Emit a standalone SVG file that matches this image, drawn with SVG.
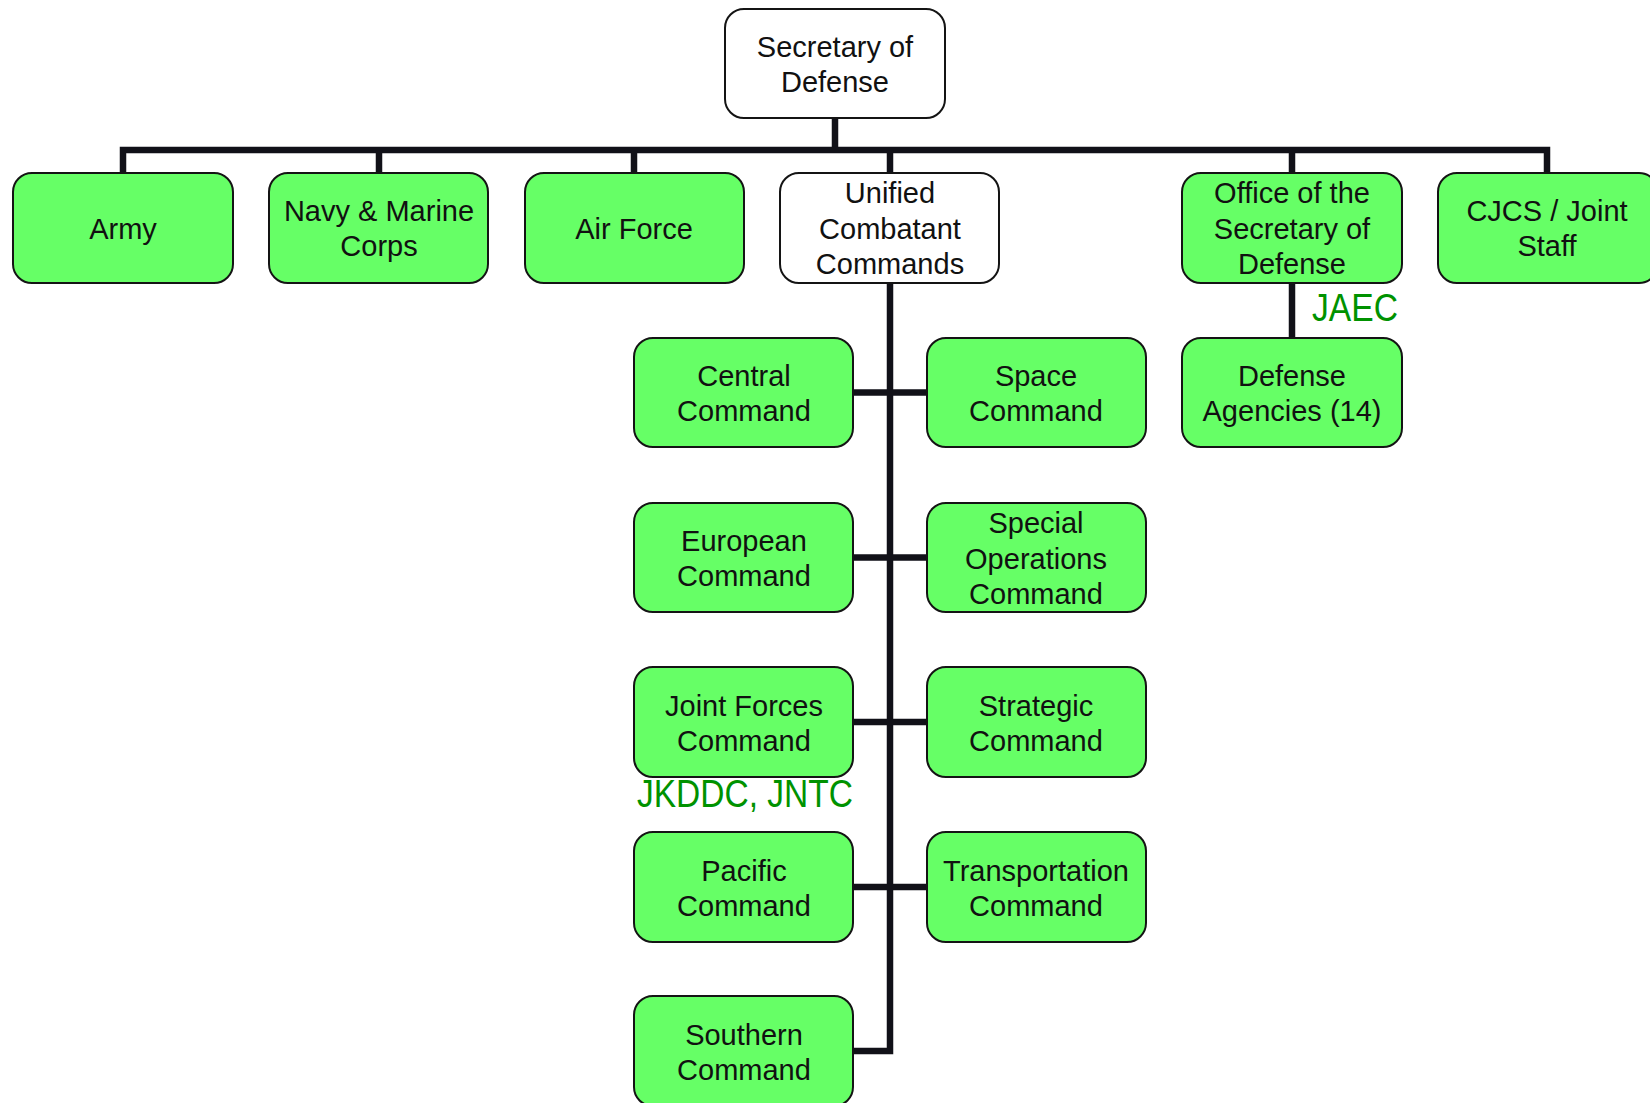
<svg xmlns="http://www.w3.org/2000/svg" width="1650" height="1103" viewBox="0 0 1650 1103">
<style>
.b{fill:#66ff66;stroke:#141414;stroke-width:2}
.w{fill:#ffffff;stroke:#141414;stroke-width:2}
.t{font-family:"Liberation Sans",Arial,sans-serif;font-size:29px;fill:#111;text-anchor:middle}
.g{font-family:"Liberation Sans",Arial,sans-serif;font-size:39px;fill:#009200}
.c{fill:none;stroke:#111118;stroke-width:6.5;stroke-linecap:butt;stroke-linejoin:miter}
</style>
<rect width="1650" height="1103" fill="#ffffff"/>
<g id="connectors">
<path class="c" d="M835 118V150"/>
<path class="c" d="M123 173V150H1547V173"/>
<path class="c" d="M379 150V173M634 150V173M890 150V173M1292 150V173"/>
<path class="c" d="M1292 283V338"/>
<path class="c" d="M890 283V1051H853"/>
<path class="c" d="M853 392.5H927M853 557.5H927M853 722H927M853 887H927"/>
</g>
<g id="secdef"><rect class="w" x="725" y="9" width="220" height="109" rx="19"/><text class="t" x="835" y="57">Secretary of</text><text class="t" x="835" y="92">Defense</text></g>
<g id="army"><rect class="b" x="13" y="173" width="220" height="110" rx="19"/><text class="t" x="123" y="239">Army</text></g>
<g id="navy"><rect class="b" x="269" y="173" width="219" height="110" rx="19"/><text class="t" x="379" y="221">Navy &amp; Marine</text><text class="t" x="379" y="256">Corps</text></g>
<g id="airforce"><rect class="b" x="525" y="173" width="219" height="110" rx="19"/><text class="t" x="634" y="239">Air Force</text></g>
<g id="unified"><rect class="w" x="780" y="173" width="219" height="110" rx="19"/><text class="t" x="890" y="203">Unified</text><text class="t" x="890" y="239">Combatant</text><text class="t" x="890" y="274">Commands</text></g>
<g id="osd"><rect class="b" x="1182" y="173" width="220" height="110" rx="19"/><text class="t" x="1292" y="203">Office of the</text><text class="t" x="1292" y="239">Secretary of</text><text class="t" x="1292" y="274">Defense</text></g>
<g id="cjcs"><rect class="b" x="1438" y="173" width="220" height="110" rx="19"/><text class="t" x="1547" y="221">CJCS / Joint</text><text class="t" x="1547" y="256">Staff</text></g>
<g id="agencies"><rect class="b" x="1182" y="338" width="220" height="109" rx="19"/><text class="t" x="1292" y="386">Defense</text><text class="t" x="1292" y="421">Agencies (14)</text></g>
<g id="jaec"><text class="g" x="1312" y="321" textLength="86" lengthAdjust="spacingAndGlyphs">JAEC</text></g>
<g id="central"><rect class="b" x="634" y="338" width="219" height="109" rx="19"/><text class="t" x="744" y="386">Central</text><text class="t" x="744" y="421">Command</text></g>
<g id="space"><rect class="b" x="927" y="338" width="219" height="109" rx="19"/><text class="t" x="1036" y="386">Space</text><text class="t" x="1036" y="421">Command</text></g>
<g id="european"><rect class="b" x="634" y="503" width="219" height="109" rx="19"/><text class="t" x="744" y="551">European</text><text class="t" x="744" y="586">Command</text></g>
<g id="socom"><rect class="b" x="927" y="503" width="219" height="109" rx="19"/><text class="t" x="1036" y="533">Special</text><text class="t" x="1036" y="569">Operations</text><text class="t" x="1036" y="604">Command</text></g>
<g id="jfcom"><rect class="b" x="634" y="667" width="219" height="110" rx="19"/><text class="t" x="744" y="716">Joint Forces</text><text class="t" x="744" y="751">Command</text></g>
<g id="jkddc"><text class="g" x="637" y="807" textLength="216" lengthAdjust="spacingAndGlyphs">JKDDC, JNTC</text></g>
<g id="strategic"><rect class="b" x="927" y="667" width="219" height="110" rx="19"/><text class="t" x="1036" y="716">Strategic</text><text class="t" x="1036" y="751">Command</text></g>
<g id="pacific"><rect class="b" x="634" y="832" width="219" height="110" rx="19"/><text class="t" x="744" y="881">Pacific</text><text class="t" x="744" y="916">Command</text></g>
<g id="transport"><rect class="b" x="927" y="832" width="219" height="110" rx="19"/><text class="t" x="1036" y="881">Transportation</text><text class="t" x="1036" y="916">Command</text></g>
<g id="southern"><rect class="b" x="634" y="996" width="219" height="110" rx="19"/><text class="t" x="744" y="1045">Southern</text><text class="t" x="744" y="1080">Command</text></g>
</svg>
